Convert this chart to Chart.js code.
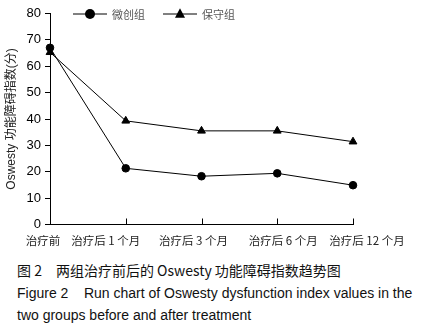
<!DOCTYPE html>
<html lang="zh">
  <head>
    <meta charset="UTF-8" />
    <title>Oswesty 功能障碍指数趋势图</title>
    <script src="https://cdn.jsdelivr.net/npm/chart.js@4.4.1/dist/chart.umd.min.js"></script>
    <style>
      body {
        margin: 0;
        background: #ffffff;
        width: 424px;
        height: 334px;
        overflow: hidden;
      }
      .chart-box {
        position: relative;
        width: 424px;
        height: 248px;
      }
      .caption {
        position: absolute;
        left: 17px;
        top: 259px;
        color: #111;
        white-space: nowrap;
      }
      .caption .zh {
        font: 14px/22.5px "Noto Sans CJK SC", sans-serif;
      }
      .caption .en {
        font: 14px/22.5px "Liberation Sans", Arial, sans-serif;
      }
    </style>
  </head>
  <body>
    <div class="chart-box">
      <canvas id="runChart"></canvas>
    </div>
    <div class="caption">
      <div class="zh">图 2　两组治疗前后的 Oswesty 功能障碍指数趋势图</div>
      <div class="en">Figure 2&nbsp;&nbsp;&nbsp; Run chart of Oswesty dysfunction index values in the</div>
      <div class="en">two groups before and after treatment</div>
    </div>

    <script>
      const categories = ["治疗前", "治疗后 1 个月", "治疗后 3 个月", "治疗后 6 个月", "治疗后 12 个月"];
      const minimallyInvasive = [67, 21.3, 18.3, 19.4, 14.9];
      const conservative = [65.3, 39.3, 35.5, 35.5, 31.4];
      const yTicks = [0, 10, 20, 30, 40, 50, 60, 70, 80];

      // the x labels in the original sit a little off their ticks
      const labelShift = [-7, -20, -8, 6, 14];

      function drawMarker(ctx, style, cx, cy, r) {
        ctx.beginPath();
        if (style === "circle") {
          ctx.arc(cx, cy, r, 0, Math.PI * 2);
        } else {
          ctx.moveTo(cx, cy - r * 1.15);
          ctx.lineTo(cx + r, cy + r * 0.75);
          ctx.lineTo(cx - r, cy + r * 0.75);
          ctx.closePath();
        }
        ctx.fill();
      }

      const decor = {
        id: "decor",
        afterDraw(chart) {
          const { ctx, chartArea } = chart;
          const x = chart.scales.x;
          ctx.save();
          ctx.strokeStyle = "#000";
          ctx.fillStyle = "#000";
          ctx.lineWidth = 1;

          // inward tick marks on the x axis
          for (let i = 1; i < categories.length; i++) {
            const px = Math.round(x.getPixelForTick(i)) + 0.5;
            ctx.beginPath();
            ctx.moveTo(px, chartArea.bottom);
            ctx.lineTo(px, chartArea.bottom - 6);
            ctx.stroke();
          }

          // x labels
          ctx.font = '11.5px "Noto Sans CJK SC", sans-serif';
          ctx.fillStyle = "#222";
          ctx.textAlign = "center";
          ctx.textBaseline = "middle";
          categories.forEach((c, i) => {
            ctx.fillText(c, x.getPixelForTick(i) + labelShift[i], chartArea.bottom + 16);
          });

          // legend: line with marker, then name
          const legendY = chartArea.top + 0.5;
          let lx = chartArea.left + 23;
          chart.data.datasets.forEach((ds) => {
            ctx.strokeStyle = "#000";
            ctx.fillStyle = "#000";
            ctx.beginPath();
            ctx.moveTo(lx, legendY);
            ctx.lineTo(lx + 34, legendY);
            ctx.stroke();
            drawMarker(ctx, ds.pointStyle, lx + 17, legendY, 5);
            ctx.fillStyle = "#555";
            ctx.textAlign = "left";
            ctx.font = '11px "Noto Sans CJK SC", sans-serif';
            ctx.fillText(ds.label, lx + 39, legendY + 1);
            lx += 90;
          });
          ctx.restore();
        },
      };

      const ctx = document.getElementById("runChart").getContext("2d");

      new Chart(ctx, {
        type: "line",
        data: {
          labels: categories,
          datasets: [
            {
              label: "微创组",
              data: minimallyInvasive,
              borderColor: "#000",
              backgroundColor: "#000",
              borderWidth: 1,
              pointStyle: "circle",
              pointRadius: 3.8,
              tension: 0,
            },
            {
              label: "保守组",
              data: conservative,
              borderColor: "#000",
              backgroundColor: "#000",
              borderWidth: 1,
              pointStyle: "triangle",
              pointRadius: 4.5,
              tension: 0,
            },
          ],
        },
        options: {
          responsive: true,
          maintainAspectRatio: false,
          animation: false,
          layout: {
            padding: { top: 13.5, right: 71, left: 0, bottom: 0 },
          },
          plugins: {
            legend: { display: false },
            tooltip: { enabled: false },
          },
          scales: {
            x: {
              type: "category",
              offset: false,
              grid: { display: false },
              border: { color: "#000", width: 1 },
              ticks: { display: false },
              afterFit: (s) => {
                s.height = 23.5;
              },
            },
            y: {
              min: 0,
              max: 80,
              afterBuildTicks: (s) => {
                s.ticks = yTicks.map((v) => ({ value: v }));
              },
              grid: {
                drawOnChartArea: false,
                drawTicks: true,
                tickLength: 5,
                color: "#000",
              },
              border: { color: "#000", width: 1 },
              ticks: {
                padding: 4,
                color: "#000",
                font: { family: "Liberation Sans", size: 13 },
              },
              title: {
                display: true,
                text: "Oswesty 功能障碍指数(分)",
                color: "#222",
                font: { family: "'Liberation Sans', 'Noto Sans CJK SC'", size: 12 },
                padding: { top: 4, bottom: 0 },
              },
              afterFit: (s) => {
                s.width = 50;
              },
            },
          },
        },
        plugins: [decor],
      });
    </script>
  </body>
</html>
